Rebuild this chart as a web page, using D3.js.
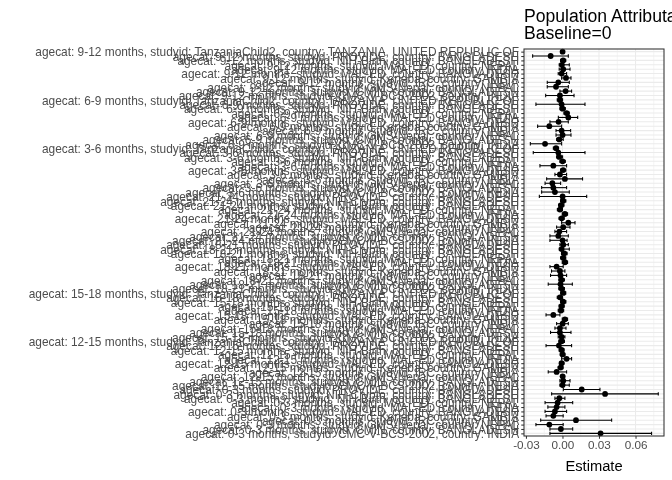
<!DOCTYPE html>
<html>
<head>
<meta charset="utf-8">
<script src="https://cdn.jsdelivr.net/npm/d3@7"></script>
<style>
  html, body { margin: 0; padding: 0; background: #ffffff; }
  svg { display: block; font-family: "Liberation Sans", Arial, Helvetica, sans-serif; }
  .ylab { opacity: 0.999; will-change: transform; }
</style>
</head>
<body>
<svg id="chart" width="672" height="480"></svg>
<script>
// ---------------- DATA ----------------
// age categories, bottom -> top (ggplot factor order)
const ageCats = ["0-3 months", "12-15 months", "15-18 months", "18-21 months",
                 "21-24 months", "3-6 months", "6-9 months", "9-12 months"];

// studies per age group, bottom -> top within each group
const studiesWithTanzania = [
  "studyid: CMC-V-BCS-2002, country: INDIA",
  "studyid: CMIN, country: BANGLADESH",
  "studyid: GMS-Nepal, country: NEPAL",
  "studyid: IRC, country: INDIA",
  "studyid: Keneba, country: GAMBIA",
  "studyid: MAL-ED, country: BANGLADESH",
  "studyid: MAL-ED, country: INDIA",
  "studyid: MAL-ED, country: NEPAL",
  "studyid: NIH-Birth, country: BANGLADESH",
  "studyid: PROVIDE, country: BANGLADESH",
  "studyid: TanzaniaChild2, country: TANZANIA, UNITED REPUBLIC OF"
];
const studiesWithoutTanzania = [
  "studyid: CMC-V-BCS-2002, country: INDIA",
  "studyid: CMIN, country: BANGLADESH",
  "studyid: GMS-Nepal, country: NEPAL",
  "studyid: IRC, country: INDIA",
  "studyid: Keneba, country: GAMBIA",
  "studyid: MAL-ED, country: BANGLADESH",
  "studyid: MAL-ED, country: INDIA",
  "studyid: MAL-ED, country: NEPAL",
  "studyid: NIH-Birth, country: BANGLADESH",
  "studyid: NIH-Crypto, country: BANGLADESH",
  "studyid: PROVIDE, country: BANGLADESH"
];
const ageHasTanzania = [false, true, true, false, false, true, true, true];

// estimates and 95% CI, one per row, bottom -> top
const estimate = [
   0.0313, -0.0013, -0.0108,  0.0111, -0.0075, -0.0062, -0.0048, -0.0040, -0.0026,  0.0350,  0.0158,
   0.0001,  0.0006,  0.0001, -0.0048, -0.0016, -0.0007,  0.0034,  0.0001, -0.0007, -0.0029, -0.0007,
  -0.0007, -0.0021, -0.0021,  0.0001,  0.0020, -0.0075, -0.0013, -0.0007,  0.0006, -0.0021,  0.0006,
  -0.0007, -0.0016, -0.0007, -0.0016, -0.0021, -0.0048,  0.0020,  0.0006,  0.0015, -0.0007,  0.0006,
   0.0001, -0.0034, -0.0026,  0.0006,  0.0048, -0.0007,  0.0020, -0.0021, -0.0010,  0.0006,  0.0001,
  -0.0062, -0.0075, -0.0083,  0.0020, -0.0021,  0.0006, -0.0075,  0.0001, -0.0026, -0.0034, -0.0053,
  -0.0143, -0.0026,  0.0001, -0.0007, -0.0108, -0.0032,  0.0048,  0.0034,  0.0001, -0.0007, -0.0021,
  -0.0021,  0.0026, -0.0053, -0.0034,  0.0029, -0.0007,  0.0006, -0.0005,  0.0006, -0.0097,  0.0001
];
const ciLower = [
  -0.0103, -0.0103, -0.0218, -0.0179, -0.0135, -0.0143, -0.0120, -0.0143, -0.0062, -0.0089,  0.0007,
  -0.0021, -0.0021, -0.0015, -0.0117, -0.0035, -0.0025, -0.0007, -0.0018, -0.0027, -0.0135, -0.0030,
  -0.0035, -0.0098, -0.0062, -0.0048, -0.0002, -0.0135, -0.0035, -0.0028, -0.0016, -0.0043, -0.0015,
  -0.0030, -0.0117, -0.0030, -0.0098, -0.0090, -0.0103, -0.0002, -0.0015, -0.0008, -0.0026, -0.0021,
  -0.0103, -0.0103, -0.0062, -0.0048, -0.0007, -0.0028, -0.0002, -0.0042, -0.0032, -0.0016, -0.0190,
  -0.0171, -0.0171, -0.0143, -0.0130, -0.0062, -0.0016, -0.0185, -0.0021, -0.0048, -0.0240, -0.0075,
  -0.0264, -0.0048, -0.0053, -0.0053, -0.0204, -0.0103, -0.0034,  0.0012, -0.0021, -0.0218, -0.0043,
  -0.0138, -0.0021, -0.0125, -0.0125, -0.0007, -0.0035, -0.0027, -0.0027, -0.0016, -0.0245, -0.0005
];
const ciUpper = [
   0.0732,  0.0084,  0.0006,  0.0404,  0.0006,  0.0034,  0.0020,  0.0084,  0.0020,  0.0787,  0.0308,
   0.0056,  0.0062,  0.0018,  0.0034,  0.0005,  0.0012,  0.0075,  0.0020,  0.0013,  0.0075,  0.0016,
   0.0020,  0.0070,  0.0029,  0.0048,  0.0042, -0.0021,  0.0010,  0.0014,  0.0028,  0.0001,  0.0027,
   0.0016,  0.0081,  0.0016,  0.0034,  0.0020,  0.0006,  0.0042,  0.0027,  0.0038,  0.0056,  0.0048,
   0.0038,  0.0048,  0.0034,  0.0062,  0.0103,  0.0014,  0.0042,  0.0000,  0.0012,  0.0028,  0.0199,
   0.0056,  0.0034, -0.0015,  0.0165,  0.0034,  0.0028,  0.0034,  0.0023,  0.0001,  0.0185, -0.0032,
  -0.0007,  0.0006,  0.0070,  0.0067, -0.0007,  0.0048,  0.0125,  0.0056,  0.0023,  0.0185,  0.0001,
   0.0095,  0.0075,  0.0048,  0.0056,  0.0070,  0.0034,  0.0062,  0.0056,  0.0027,  0.0048,  0.0009
];

const xTicks = [-0.03, 0.00, 0.03, 0.06];
const xTickLabels = ["-0.03", "0.00", "0.03", "0.06"];
const xMinorTicks = [-0.015, 0.015, 0.045, 0.075];
const titleLines = ["Population Attributable Difference", "Baseline=0"];
const xTitle = "Estimate";

// ---------------- BUILD ROWS ----------------
const labels = [];
ageCats.forEach((a, i) => {
  const studies = ageHasTanzania[i] ? studiesWithTanzania : studiesWithoutTanzania;
  studies.forEach(s => labels.push("agecat: " + a + ", " + s));
});
const rows = labels.map((lab, i) => ({
  label: lab, est: estimate[i], lo: ciLower[i], hi: ciUpper[i]
}));

// ---------------- LAYOUT ----------------
const panel = { left: 524, right: 664, top: 49, bottom: 436 };
const svg = d3.select("#chart");

const x = d3.scaleLinear().domain([-0.0316, 0.0834]).range([panel.left, panel.right]);
const y = d3.scalePoint().domain(labels).range([panel.bottom, panel.top]).padding(0.6);

const g = svg.append("g");

// panel background
g.append("rect")
  .attr("x", panel.left).attr("y", panel.top)
  .attr("width", panel.right - panel.left).attr("height", panel.bottom - panel.top)
  .attr("fill", "#ffffff");

// minor vertical grid
g.selectAll("line.vminor").data(xMinorTicks).enter().append("line")
  .attr("x1", d => x(d)).attr("x2", d => x(d))
  .attr("y1", panel.top).attr("y2", panel.bottom)
  .attr("stroke", "#ebebeb").attr("stroke-width", 0.55);

// major vertical grid
g.selectAll("line.vmajor").data(xTicks).enter().append("line")
  .attr("x1", d => x(d)).attr("x2", d => x(d))
  .attr("y1", panel.top).attr("y2", panel.bottom)
  .attr("stroke", "#ebebeb").attr("stroke-width", 1.07);

// horizontal grid at each category
g.selectAll("line.hmajor").data(labels).enter().append("line")
  .attr("x1", panel.left).attr("x2", panel.right)
  .attr("y1", d => y(d)).attr("y2", d => y(d))
  .attr("stroke", "#ebebeb").attr("stroke-width", 1.07);

// error bars
const capH = y.step() * 0.38;
const eb = g.append("g").attr("stroke", "#000").attr("stroke-width", 1.07).attr("fill", "none");
rows.forEach(r => {
  const yy = y(r.label);
  eb.append("line").attr("x1", x(r.lo)).attr("x2", x(r.hi)).attr("y1", yy).attr("y2", yy);
  eb.append("line").attr("x1", x(r.lo)).attr("x2", x(r.lo)).attr("y1", yy - capH).attr("y2", yy + capH);
  eb.append("line").attr("x1", x(r.hi)).attr("x2", x(r.hi)).attr("y1", yy - capH).attr("y2", yy + capH);
});

// points
g.selectAll("circle.pt").data(rows).enter().append("circle")
  .attr("cx", d => x(d.est)).attr("cy", d => y(d.label))
  .attr("r", 2.9).attr("fill", "#000");

// panel border
g.append("rect")
  .attr("x", panel.left).attr("y", panel.top)
  .attr("width", panel.right - panel.left).attr("height", panel.bottom - panel.top)
  .attr("fill", "none").attr("stroke", "#333333").attr("stroke-width", 1.07);

// y axis
const yAxis = d3.axisLeft(y).tickSize(2.75).tickPadding(2.2);
const ya = svg.append("g").attr("class", "ylab")
  .attr("transform", `translate(${panel.left},0)`).call(yAxis);
ya.select(".domain").remove();
ya.selectAll(".tick line").attr("stroke", "#333333").attr("stroke-width", 1.07);
ya.selectAll(".tick text")
  .attr("fill", "#4d4d4d").attr("font-size", "11.9px")
  .attr("font-family", "'Liberation Sans', Arial, sans-serif")
  .attr("dy", "0.36em");

// x axis
const xAxis = d3.axisBottom(x).tickValues(xTicks)
  .tickFormat((d, i) => xTickLabels[i]).tickSize(2.75).tickPadding(2.2);
const xa = svg.append("g").attr("transform", `translate(0,${panel.bottom})`).call(xAxis);
xa.select(".domain").remove();
xa.selectAll(".tick line").attr("stroke", "#333333").attr("stroke-width", 1.07);
xa.selectAll(".tick text")
  .attr("fill", "#4d4d4d").attr("font-size", "11.7px")
  .attr("font-family", "'Liberation Sans', Arial, sans-serif");

// x title
svg.append("text")
  .attr("x", (panel.left + panel.right) / 2).attr("y", 471)
  .attr("text-anchor", "middle")
  .attr("font-size", "14.7px").attr("fill", "#000")
  .text(xTitle);

// plot title
svg.selectAll("text.title").data(titleLines).enter().append("text")
  .attr("x", panel.left).attr("y", (d, i) => 21.7 + i * 17.6)
  .attr("font-size", "17.6px").attr("fill", "#000")
  .text(d => d);
</script>
</body>
</html>
